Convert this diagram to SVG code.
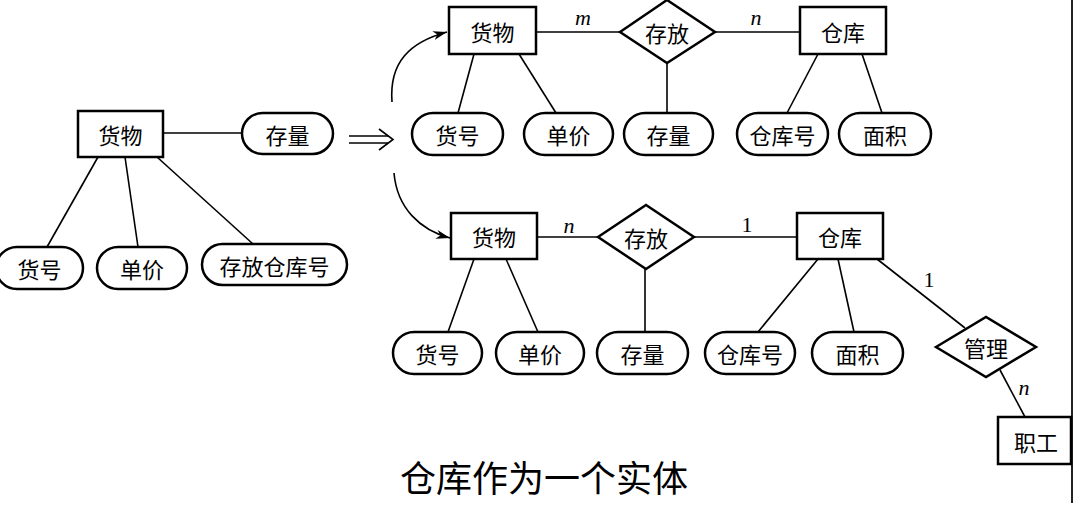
<svg xmlns="http://www.w3.org/2000/svg" width="1074" height="519" viewBox="0 0 1074 519">
<defs>
<style>
.ent{fill:#fff;stroke:#000;stroke-width:2.5}
.att{fill:#fff;stroke:#000;stroke-width:2.5}
.rel{fill:#fff;stroke:#000;stroke-width:2.5;stroke-linejoin:miter}
.ln{stroke:#000;stroke-width:1.6;fill:none}
.t{font-family:"Noto Sans CJK SC","Noto Sans CJK TC",sans-serif;font-size:22px;fill:#000;text-anchor:middle;dominant-baseline:central}
.lab{font-family:"Liberation Serif",serif;font-size:22px;fill:#000;text-anchor:middle;dominant-baseline:central}
.it{font-style:italic}
.title{font-family:"Noto Sans CJK SC","Noto Sans CJK TC",sans-serif;font-size:36px;fill:#000;text-anchor:middle;dominant-baseline:central}
</style>
<marker id="ah" markerUnits="userSpaceOnUse" markerWidth="16" markerHeight="10" refX="14" refY="5" orient="auto">
<path d="M0,0.5 L14,5 L0,9.5 L4,5 z" fill="#000"/>
</marker>
</defs>
<rect width="1074" height="519" fill="#fff"/>
<line x1="1072" y1="0" x2="1072" y2="503" stroke="#222" stroke-width="2"/>

<g id="connectors">
<line class="ln" x1="163" y1="133" x2="242" y2="133"/>
<line class="ln" x1="98" y1="157" x2="47" y2="247"/>
<line class="ln" x1="125" y1="157" x2="138" y2="247"/>
<line class="ln" x1="157" y1="157" x2="253" y2="244"/>
<line class="ln" x1="349" y1="136" x2="388" y2="136"/>
<line class="ln" x1="349" y1="143" x2="388" y2="143"/>
<polyline class="ln" points="379,129 393,139.5 379,150"/>
<path class="ln" d="M392,102 C389,62 410,42 447,32" marker-end="url(#ah)"/>
<path class="ln" d="M394,173 C397,208 420,230 450,238" marker-end="url(#ah)"/>
<line class="ln" x1="536" y1="32" x2="620" y2="32"/>
<line class="ln" x1="715" y1="32" x2="800" y2="32"/>
<line class="ln" x1="667" y1="63" x2="667" y2="113"/>
<line class="ln" x1="474" y1="54" x2="458" y2="113"/>
<line class="ln" x1="519" y1="54" x2="556" y2="113"/>
<line class="ln" x1="818" y1="54" x2="787" y2="113"/>
<line class="ln" x1="862" y1="54" x2="882" y2="113"/>
<line class="ln" x1="537" y1="237" x2="598" y2="237"/>
<line class="ln" x1="694" y1="237" x2="797" y2="237"/>
<line class="ln" x1="645" y1="269" x2="645" y2="332"/>
<line class="ln" x1="474" y1="259" x2="448" y2="332"/>
<line class="ln" x1="506" y1="259" x2="538" y2="332"/>
<line class="ln" x1="818" y1="259" x2="758" y2="332"/>
<line class="ln" x1="838" y1="259" x2="854" y2="332"/>
<line class="ln" x1="877" y1="259" x2="965" y2="328"/>
<line class="ln" x1="1000" y1="370" x2="1025" y2="417"/>
<text class="lab it" x="583" y="17">m</text>
<text class="lab it" x="756" y="17">n</text>
<text class="lab it" x="569" y="225">n</text>
<text class="lab" x="747" y="224">1</text>
<text class="lab" x="929" y="279">1</text>
<text class="lab it" x="1024" y="387">n</text>
</g>

<g id="goods0"><rect class="ent" x="78" y="111" width="85" height="46"/><text class="t" x="120.5" y="134">货物</text></g>
<g id="stock0"><rect class="att" x="242" y="113" width="91" height="41" rx="20.5"/><text class="t" x="287.5" y="133.5">存量</text></g>
<g id="gno0"><rect class="att" x="-4" y="247" width="87" height="42" rx="21"/><text class="t" x="39.5" y="268">货号</text></g>
<g id="price0"><rect class="att" x="97" y="247" width="90" height="42" rx="21"/><text class="t" x="142" y="268">单价</text></g>
<g id="whno0"><rect class="att" x="202" y="244" width="145" height="41" rx="20.5"/><text class="t" x="274.5" y="264.5">存放仓库号</text></g>

<g id="goods1"><rect class="ent" x="449" y="7" width="87" height="47"/><text class="t" x="492.5" y="31">货物</text></g>
<g id="store1"><polygon class="rel" points="620,32 667,0 715,32 667,63"/><text class="t" x="667" y="32">存放</text></g>
<g id="wh1"><rect class="ent" x="800" y="7" width="86" height="47"/><text class="t" x="843" y="31">仓库</text></g>
<g id="gno1"><rect class="att" x="412" y="113" width="91" height="42" rx="21"/><text class="t" x="457.5" y="134">货号</text></g>
<g id="price1"><rect class="att" x="524" y="113" width="89" height="42" rx="21"/><text class="t" x="568.5" y="134">单价</text></g>
<g id="stock1"><rect class="att" x="624" y="113" width="89" height="42" rx="21"/><text class="t" x="668.5" y="134">存量</text></g>
<g id="whno1"><rect class="att" x="737" y="113" width="91" height="42" rx="21"/><text class="t" x="782.5" y="134">仓库号</text></g>
<g id="area1"><rect class="att" x="839" y="113" width="92" height="42" rx="21"/><text class="t" x="885" y="134">面积</text></g>

<g id="goods2"><rect class="ent" x="451" y="213" width="86" height="46"/><text class="t" x="494" y="236">货物</text></g>
<g id="store2"><polygon class="rel" points="598,237 646,205 694,237 646,269"/><text class="t" x="646" y="237">存放</text></g>
<g id="wh2"><rect class="ent" x="797" y="213" width="86" height="46"/><text class="t" x="840" y="236">仓库</text></g>
<g id="gno2"><rect class="att" x="393" y="332" width="89" height="42" rx="21"/><text class="t" x="437.5" y="353">货号</text></g>
<g id="price2"><rect class="att" x="496" y="332" width="88" height="42" rx="21"/><text class="t" x="540" y="353">单价</text></g>
<g id="stock2"><rect class="att" x="597" y="332" width="91" height="42" rx="21"/><text class="t" x="642.5" y="353">存量</text></g>
<g id="whno2"><rect class="att" x="705" y="332" width="90" height="42" rx="21"/><text class="t" x="750" y="353">仓库号</text></g>
<g id="area2"><rect class="att" x="812" y="332" width="91" height="42" rx="21"/><text class="t" x="857.5" y="353">面积</text></g>
<g id="manage"><polygon class="rel" points="936,347 986,317 1036,347 986,377"/><text class="t" x="986" y="347">管理</text></g>
<g id="staff"><rect class="ent" x="998" y="417" width="73" height="47"/><text class="t" x="1036" y="441">职工</text></g>

<g id="title"><text class="title" x="544" y="476">仓库作为一个实体</text></g>
</svg>
